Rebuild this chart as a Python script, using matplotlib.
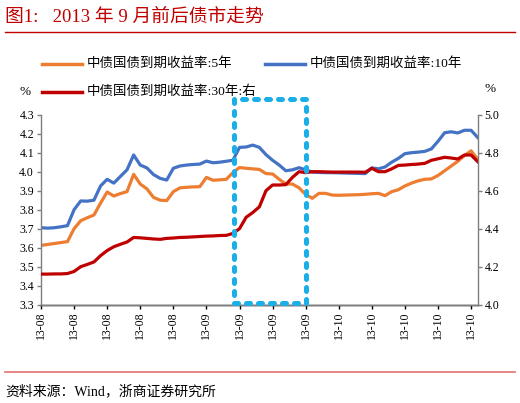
import matplotlib
matplotlib.use("Agg")
import matplotlib.pyplot as plt
from matplotlib.patches import Rectangle
from matplotlib.lines import Line2D

plt.rcParams['font.family'] = ['Liberation Serif', 'Noto Sans CJK SC', 'DejaVu Sans']

tick_labels = ["13-08"] * 5 + ["13-09"] * 4 + ["13-10"] * 5

y5 = [3.612, 3.617, 3.622, 3.627, 3.632, 3.700, 3.742, 3.758, 3.772, 3.835,
      3.893, 3.872, 3.885, 3.895, 3.986, 3.935, 3.910, 3.865, 3.850, 3.848,
      3.895, 3.915, 3.918, 3.920, 3.921, 3.970, 3.955, 3.957, 3.960, 3.995,
      4.022, 4.018, 4.015, 4.012, 3.990, 3.988, 3.960, 3.935, 3.935, 3.915,
      3.880, 3.860, 3.886, 3.886, 3.877, 3.876, 3.877, 3.878, 3.879, 3.881,
      3.884, 3.886, 3.874, 3.895, 3.905, 3.925, 3.940, 3.952, 3.960, 3.962,
      3.980, 4.005, 4.030, 4.055, 4.085, 4.110, 4.065]

y10 = [3.705, 3.703, 3.705, 3.710, 3.716, 3.800, 3.846, 3.845, 3.850, 3.925,
       3.960, 3.940, 3.975, 4.010, 4.088, 4.035, 4.020, 3.985, 3.965, 3.956,
       4.018, 4.030, 4.035, 4.038, 4.040, 4.056, 4.047, 4.050, 4.055, 4.060,
       4.128, 4.130, 4.140, 4.128, 4.090, 4.060, 4.035, 4.005, 4.010, 4.021,
       4.010, 3.998, 3.996, 3.995, 3.995, 3.994, 3.993, 3.992, 3.991, 3.990,
       4.020, 4.015, 4.025, 4.050, 4.070, 4.095, 4.100, 4.103, 4.107, 4.120,
       4.160, 4.205, 4.210, 4.204, 4.218, 4.218, 4.180]

y30 = [4.161, 4.161, 4.162, 4.162, 4.164, 4.175, 4.200, 4.212, 4.225, 4.258,
       4.285, 4.305, 4.318, 4.330, 4.354, 4.352, 4.349, 4.346, 4.344, 4.349,
       4.351, 4.354, 4.355, 4.357, 4.359, 4.361, 4.362, 4.364, 4.365, 4.375,
       4.400, 4.460, 4.485, 4.515, 4.600, 4.630, 4.630, 4.632, 4.670, 4.700,
       4.695, 4.700, 4.700, 4.699, 4.698, 4.698, 4.698, 4.698, 4.698, 4.697,
       4.718, 4.700, 4.700, 4.715, 4.733, 4.735, 4.738, 4.740, 4.744, 4.760,
       4.768, 4.776, 4.772, 4.767, 4.788, 4.788, 4.753]

names = ["中债国债到期收益率:5年", "中债国债到期收益率:10年", "中债国债到期收益率:30年:右"]
colors = ["#ED7D31", "#4472C4", "#C00000"]

W, H = 520, 403
fig = plt.figure(figsize=(W / 100, H / 100), dpi=100)

L, R, T, B = 41, 477.7, 114.7, 304.7
ax = fig.add_axes([L / W, 1 - B / H, (R - L) / W, (B - T) / H])
ax2 = ax.twinx()

x = list(range(len(y5)))
ax.plot(x, y5, color=colors[0], lw=2.3, solid_joinstyle='round')
ax.plot(x, y10, color=colors[1], lw=2.3, solid_joinstyle='round')
ax2.plot(x, y30, color=colors[2], lw=2.3, solid_joinstyle='round')

ax.set_xlim(0, len(y5) - 1)
ax.set_ylim(3.3, 4.3)
ax2.set_ylim(4.0, 5.0)
ax.set_yticks([3.3 + 0.1 * i for i in range(11)])
ax.set_yticklabels([f"{3.3 + 0.1 * i:.1f}" for i in range(11)])
ax2.set_yticks([4.0 + 0.2 * i for i in range(6)])
ax2.set_yticklabels([f"{4.0 + 0.2 * i:.1f}" for i in range(6)])
ax.set_xticks([5 * i for i in range(len(tick_labels))])
ax.set_xticklabels(tick_labels, rotation=90)

for a in (ax, ax2):
    a.spines['top'].set_visible(False)
    for s in ('left', 'right', 'bottom'):
        a.spines[s].set_color('#7f7f7f')
        a.spines[s].set_linewidth(1.0)
    a.tick_params(axis='both', direction='out', length=3, width=1.0,
                  color='#7f7f7f', labelsize=8.5, labelcolor='#000000', pad=2)
ax.spines['bottom'].set_color('#000000')
ax.tick_params(axis='x', colors='#000000', labelcolor='#000000')
ax2.spines['left'].set_visible(False)
ax.spines['right'].set_visible(False)


def fx(px):
    return px / W


def fy(py):
    return 1 - py / H


leg = [(42, 64, 0), (265, 64, 1), (42, 92, 2)]
for lx, ly, i in leg:
    fig.add_artist(Line2D([fx(lx), fx(lx + 40)], [fy(ly), fy(ly)], color=colors[i], lw=2.5))
    fig.text(fx(lx + 45), fy(ly), names[i], fontsize=9.7, va='center', ha='left', color='#000000')

fig.text(fx(25), fy(92), "%", fontsize=9.5, ha='center', va='center')
fig.text(fx(490), fy(89), "%", fontsize=9.5, ha='center', va='center')

fig.text(fx(5), fy(17), "图1:   2013 年 9 月前后债市走势", fontsize=13.5, color='#C00000',
         ha='left', va='center')
fig.add_artist(Line2D([fx(5), fx(515)], [fy(31.5), fy(31.5)], color='#C00000', lw=1.0))
fig.add_artist(Line2D([fx(5), fx(515)], [fy(372), fy(372)], color='#E07070', lw=1.2))
fig.text(fx(5), fy(391), "资料来源：Wind，浙商证券研究所", fontsize=10, ha='left', va='center')

fig.add_artist(Rectangle((fx(233.5), fy(302.5)), fx(306) - fx(233.5), fy(99) - fy(302.5),
                         transform=fig.transFigure, fill=False, edgecolor='#1AAFE8',
                         lw=3.6, linestyle=(0, (0.8, 1.6)), capstyle='round',
                         joinstyle='round', zorder=10))

fig.savefig("out.png", dpi=100)
